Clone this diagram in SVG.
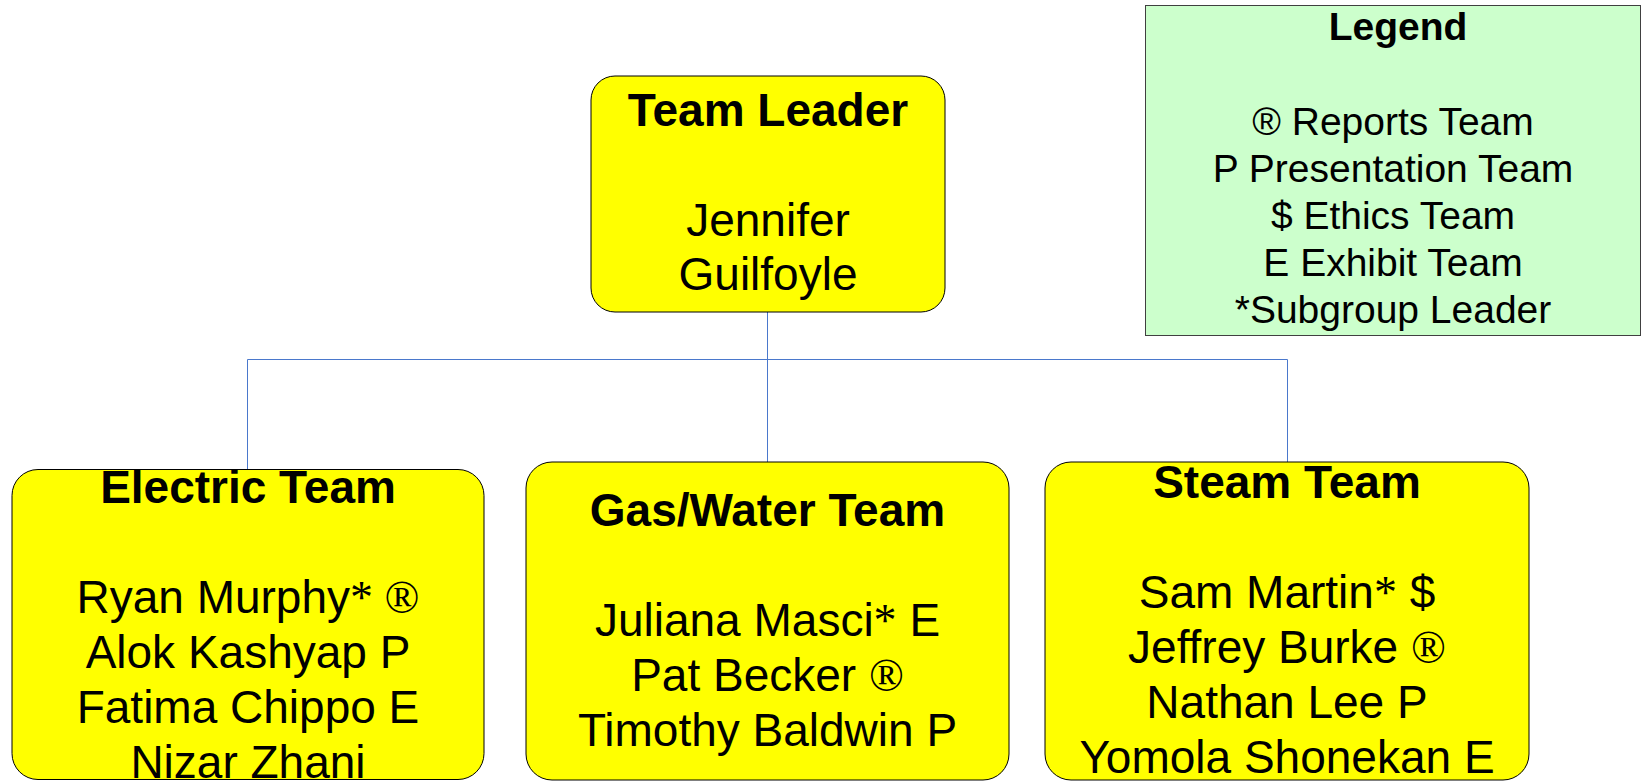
<svg xmlns="http://www.w3.org/2000/svg" width="1642" height="781" viewBox="0 0 1642 781">
<style>
.box{fill:#FFFF00;stroke:#000;stroke-width:1}
.leg{fill:#CCFFCC;stroke:#404040;stroke-width:1}
.t{font-family:"Liberation Sans",Arial,sans-serif;font-size:46px;fill:#000;text-anchor:middle}
.b{font-weight:bold}
.s{font-family:"Liberation Serif","Times New Roman",serif}
.lt{font-family:"Liberation Sans",Arial,sans-serif;font-size:39px;fill:#000;text-anchor:middle}
.conn{fill:none;stroke:#4A78CC;stroke-width:1}
</style>
<rect width="1642" height="781" fill="#fff"/>
<g id="connectors">
<path class="conn" d="M767.5,312 V359.5"/>
<path class="conn" d="M247.5,359.5 H1287.5"/>
<path class="conn" d="M247.5,359.5 V469.5"/>
<path class="conn" d="M767.5,359.5 V462"/>
<path class="conn" d="M1287.5,359.5 V462"/>
</g>
<g id="legend">
<rect class="leg" x="1145.5" y="5.5" width="495" height="330"/>
<text class="lt b" x="1398" y="40">Legend</text>
<text class="lt" x="1393" y="134.5">® Reports Team</text>
<text class="lt" x="1393" y="181.5">P Presentation Team</text>
<text class="lt" x="1393" y="229">$ Ethics Team</text>
<text class="lt" x="1393" y="276">E Exhibit Team</text>
<text class="lt" x="1393" y="323">*Subgroup Leader</text>
</g>
<g id="team-leader">
<rect class="box" x="591" y="76" width="354" height="236" rx="24"/>
<text class="t b" x="768" y="126">Team Leader</text>
<text class="t" x="768" y="236">Jennifer</text>
<text class="t" x="768" y="290">Guilfoyle</text>
</g>
<g id="electric-team">
<rect class="box" x="12" y="469.5" width="472" height="310" rx="26"/>
<text class="t b" x="248" y="503">Electric Team</text>
<text class="t" x="248" y="613">Ryan Murphy<tspan class="s">* ®</tspan></text>
<text class="t" x="248" y="668">Alok Kashyap P</text>
<text class="t" x="248" y="723">Fatima Chippo E</text>
<text class="t" x="248" y="778">Nizar Zhani</text>
</g>
<g id="gas-water-team">
<rect class="box" x="526" y="462" width="483" height="318" rx="26"/>
<text class="t b" x="767.5" y="526">Gas/Water Team</text>
<text class="t" x="767.5" y="636">Juliana Masci<tspan class="s">*</tspan> E</text>
<text class="t" x="767.5" y="691">Pat Becker <tspan class="s">®</tspan></text>
<text class="t" x="767.5" y="746">Timothy Baldwin P</text>
</g>
<g id="steam-team">
<rect class="box" x="1045" y="462" width="484" height="318" rx="26"/>
<text class="t b" x="1287" y="498">Steam Team</text>
<text class="t" x="1287" y="608">Sam Martin<tspan class="s">*</tspan> $</text>
<text class="t" x="1287" y="663">Jeffrey Burke <tspan class="s">®</tspan></text>
<text class="t" x="1287" y="718">Nathan Lee P</text>
<text class="t" x="1287" y="773">Yomola Shonekan E</text>
</g>
</svg>
